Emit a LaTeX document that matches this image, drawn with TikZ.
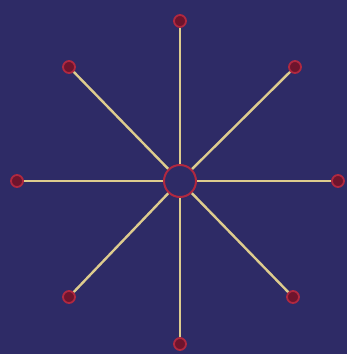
\documentclass[tikz,border=0pt]{standalone}
\usepackage{xcolor}
\usepackage{tikz}
\usetikzlibrary{positioning}

\definecolor{slate}{RGB}{46,43,102}
\definecolor{spoke}{RGB}{222,204,142}
\definecolor{rim}{RGB}{176,40,64}
\definecolor{pit}{RGB}{110,20,45}

\begin{document}
\begin{tikzpicture}[
  x=1pt, y=-1pt,
  hub/.style={draw=rim, line width=2pt, circle, minimum size=32pt, inner sep=0pt, fill=slate},
  tip/.style={draw=rim, line width=1.8pt, circle, minimum size=12pt, inner sep=0pt, fill=pit},
  ray/.style={draw=spoke, line width=2.4pt}
]
  \fill[slate] (0,0) rectangle (347,354);
  \useasboundingbox (0,0) rectangle (347,354);

  \node[hub] (c) at (180,181) {};
  \foreach \n/\px/\py in {t/180/21, tr/295/67, r/338/181, br/293/297,
                          b/180/344, bl/69/297, l/17/181, tl/69/67}
    \node[tip] (\n) at (\px,\py) {};

  \foreach \n in {t,tr,r,br,b,bl,l,tl}
    \draw[ray] (c) -- (\n);
\end{tikzpicture}
\end{document}
